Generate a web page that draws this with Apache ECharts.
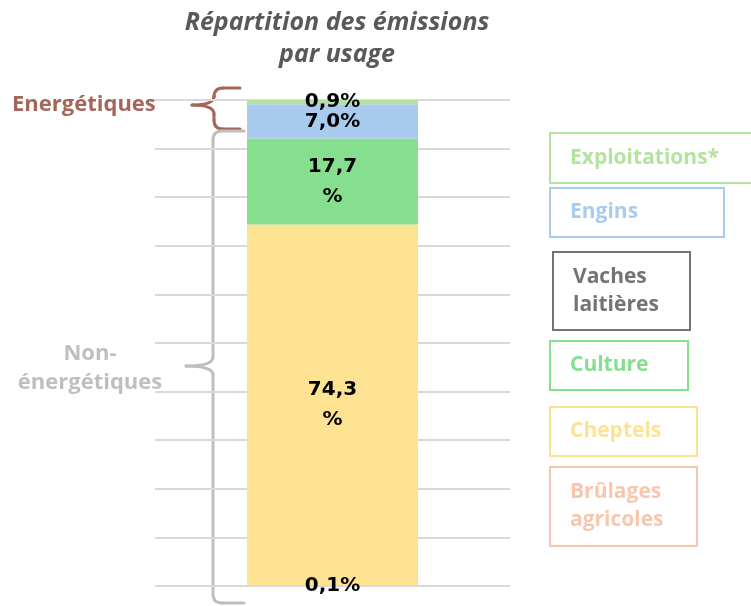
<!DOCTYPE html>
<html>
<head>
<meta charset="utf-8">
<script src="https://cdn.jsdelivr.net/npm/echarts@6/dist/echarts.min.js"></script>
<style>
    html, body { margin: 0; padding: 0; background: #fff; }
    #chart { width: 751px; height: 606px; }
</style>
</head>
<body>
<div id="chart"></div>
<script>
// données, du bas vers le haut de la barre
const usages = ['Brûlages agricoles', 'Cheptels', 'Vaches laitières', 'Culture', 'Engins', 'Exploitations*'];
const parts = [0.1, 74.3, 0, 17.7, 7.0, 0.9];
const colors = ['#f8c6ac', '#fde291', '#737373', '#86df8e', '#a9cbed', '#b4e3a0'];
const yTicks = [0, 10, 20, 30, 40, 50, 60, 70, 80, 90, 100];

const font = '"Open Sans", "Noto Sans", sans-serif';

// pourcentage à la française
function fmt(v, wrap) {
    let s = v.toFixed(1).replace('.', ',');
    return wrap ? s + '\n%' : s + '%';
}

// accolade ouverte vers la droite, en segments et courbes
function brace(xTip, yTop, yBot, xSpine, xPoint, yMid, r, color) {
    let st = { fill: 'none', stroke: color, lineWidth: 3, lineCap: 'round' };
    let ln = (x1, y1, x2, y2) => ({ type: 'line', shape: { x1, y1, x2, y2 }, style: st });
    let qc = (x1, y1, cx, cy, x2, y2) => ({
        type: 'bezierCurve', shape: { x1, y1, cpx1: cx, cpy1: cy, x2, y2 }, style: st
    });
    return [
        ln(xTip, yTop, xSpine + r, yTop),
        qc(xSpine + r, yTop, xSpine, yTop, xSpine, yTop + r),
        ln(xSpine, yTop + r, xSpine, yMid - r),
        qc(xSpine, yMid - r, xSpine, yMid, xPoint, yMid),
        qc(xPoint, yMid, xSpine, yMid, xSpine, yMid + r),
        ln(xSpine, yMid + r, xSpine, yBot - r),
        qc(xSpine, yBot - r, xSpine, yBot, xSpine + r, yBot),
        ln(xSpine + r, yBot, xTip, yBot)
    ];
}

var chart = echarts.init(document.getElementById('chart'));

let series = usages.map((name, i) => ({
    name: name,
    type: 'bar',
    stack: 'total',
    barWidth: 171,
    data: [parts[i]],
    itemStyle: { color: colors[i] },
    label: {
        show: parts[i] > 0,
        position: 'inside',
        color: '#000',
        fontFamily: '"DejaVu Sans", sans-serif',
        fontWeight: 'bold',
        fontSize: 20,
        lineHeight: 30,
        formatter: (p) => fmt(p.value, p.value > 10 && p.value < 80)
    }
}));

// légende en cadres
const legendBoxes = [
    { i: 5, x: 550, y: 133, w: 210, h: 50 },
    { i: 4, x: 550, y: 188, w: 174, h: 49 },
    { i: 2, x: 553, y: 252, w: 137, h: 78 },
    { i: 3, x: 550, y: 341, w: 138, h: 49 },
    { i: 1, x: 550, y: 407, w: 147, h: 49 },
    { i: 0, x: 550, y: 467, w: 147, h: 79 }
];
let graphics = [];
legendBoxes.forEach(b => {
    graphics.push({
        type: 'rect',
        shape: { x: b.x, y: b.y, width: b.w, height: b.h },
        style: { fill: 'none', stroke: colors[b.i], lineWidth: 2 }
    });
    graphics.push({
        type: 'text',
        x: b.x + 20,
        y: b.y + b.h / 2,
        style: {
            text: usages[b.i].replace(' ', '\n'),
            fill: colors[b.i],
            font: 'bold 21px ' + font,
            lineHeight: 28,
            verticalAlign: 'middle'
        }
    });
});

// accolades
graphics = graphics.concat(brace(240, 88, 129, 214, 192, 105, 9, '#a5665a'));
graphics = graphics.concat(brace(244, 131, 603, 213, 186, 366, 9, '#bfbfbf'));
graphics.push({
    type: 'text', x: 12, y: 105,
    style: { text: 'Energétiques', fill: '#a5665a', font: 'bold 22px ' + font, verticalAlign: 'middle' }
});
graphics.push({
    type: 'text', x: 90, y: 368,
    style: {
        text: 'Non-\nénergétiques', fill: '#bfbfbf', font: 'bold 22px ' + font,
        align: 'center', verticalAlign: 'middle', lineHeight: 29
    }
});

let option = {
    animation: false,
    title: {
        text: 'Répartition des émissions\npar usage',
        left: 332,
        textAlign: 'center',
        top: 2,
        textStyle: {
            fontFamily: font,
            fontStyle: 'italic',
            fontWeight: 'bold',
            fontSize: 25,
            lineHeight: 32,
            color: '#595959'
        }
    },
    grid: { left: 155, right: 241, top: 100, bottom: 20 },
    xAxis: {
        type: 'category',
        data: [''],
        axisLine: { show: false },
        axisTick: { show: false },
        axisLabel: { show: false }
    },
    yAxis: {
        type: 'value',
        min: yTicks[0],
        max: yTicks[yTicks.length - 1],
        interval: yTicks[1] - yTicks[0],
        axisLabel: { show: false },
        axisLine: { show: false },
        axisTick: { show: false },
        splitLine: { lineStyle: { color: '#d9d9d9', width: 2 } }
    },
    series: series,
    graphic: graphics
};
chart.setOption(option);
</script>
</body>
</html>
